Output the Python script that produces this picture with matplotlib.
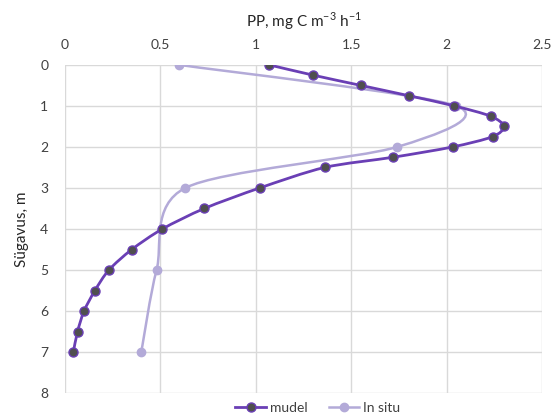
import numpy as np
import matplotlib.pyplot as plt
from matplotlib.path import Path
from matplotlib.patches import PathPatch
from matplotlib.lines import Line2D

plt.rcParams['font.family'] = ['Lato', 'DejaVu Sans']

# depth (m) and primary production values
mudel_depth = [0, 0.25, 0.5, 0.75, 1.0, 1.25, 1.5, 1.75, 2.0, 2.25, 2.5, 3.0, 3.5, 4.0, 4.5, 5.0, 5.5, 6.0, 6.5, 7.0]
mudel_pp = [1.07, 1.30, 1.55, 1.80, 2.04, 2.23, 2.30, 2.24, 2.03, 1.72, 1.36, 1.02, 0.73, 0.51, 0.35, 0.23, 0.157, 0.10, 0.066, 0.044]
situ_depth = [0, 1.0, 2.0, 3.0, 5.0, 7.0]
situ_pp = [0.60, 2.05, 1.74, 0.63, 0.48, 0.40]

xticks = [0, 0.5, 1, 1.5, 2, 2.5]
yticks = [0, 1, 2, 3, 4, 5, 6, 7, 8]

c_mudel = '#6a3fb5'
c_marker = '#4f4f4f'
c_situ = '#b3aad8'


def smooth_path(x, y, k=1 / 7.0):
    # Excel style smoothing: Catmull-Rom like segments as cubic Bezier curves
    pts = np.column_stack([x, y]).astype(float)
    n = len(pts)
    verts = [pts[0]]
    codes = [Path.MOVETO]
    for i in range(n - 1):
        p0 = pts[i - 1] if i > 0 else pts[i]
        p1 = pts[i]
        p2 = pts[i + 1]
        p3 = pts[i + 2] if i + 2 < n else pts[i + 1]
        c1 = p1 + (p2 - p0) * k
        c2 = p2 - (p3 - p1) * k
        verts += [c1, c2, p2]
        codes += [Path.CURVE4] * 3
    return Path(verts, codes)


fig = plt.figure(figsize=(5.55, 4.16), dpi=100)
ax = fig.add_axes([0.117, 0.055, 0.86, 0.789])

ax.set_xlim(0, 2.5)
ax.set_ylim(8, 0)
ax.set_xticks(xticks)
ax.set_yticks(yticks)
ax.set_xticklabels([f'{t:g}' for t in xticks])
ax.xaxis.tick_top()
ax.xaxis.set_label_position('top')
ax.tick_params(length=0, labelsize=10, colors='#404040', pad=10)
ax.tick_params(axis='y', pad=12)
for s in ax.spines.values():
    s.set_visible(False)
ax.grid(True, color='#d9d9d9', lw=1)
ax.set_axisbelow(True)

ax.add_patch(PathPatch(smooth_path(situ_pp, situ_depth), fill=False, ec=c_situ, lw=1.8, zorder=2))
ax.plot(situ_pp, situ_depth, 'o', color=c_situ, ms=6, zorder=3)
ax.add_patch(PathPatch(smooth_path(mudel_pp, mudel_depth), fill=False, ec=c_mudel, lw=2, zorder=4))
ax.plot(mudel_pp, mudel_depth, 'o', mfc=c_marker, mec=c_mudel, mew=1, ms=6.5, zorder=5)

ax.set_xlabel('PP, mg C m$^{\\mathregular{-3}}$ h$^{\\mathregular{-1}}$', fontsize=11, color='#262626', labelpad=9)
ax.set_ylabel('Sügavus, m', fontsize=11, color='#262626', labelpad=8)

handles = [
    Line2D([], [], color=c_mudel, lw=2, marker='o', mfc=c_marker, mec=c_mudel, ms=6.5),
    Line2D([], [], color=c_situ, lw=1.8, marker='o', mfc=c_situ, mec=c_situ, ms=6),
]
ax.legend(handles, ['mudel', 'In situ'], loc='center', bbox_to_anchor=(0.53, -0.045),
          ncol=2, frameon=False, fontsize=10, handlelength=2.2, columnspacing=1.5,
          handletextpad=0.3, labelcolor='#404040', borderpad=0.2)

fig.savefig('out.png', dpi=100)
